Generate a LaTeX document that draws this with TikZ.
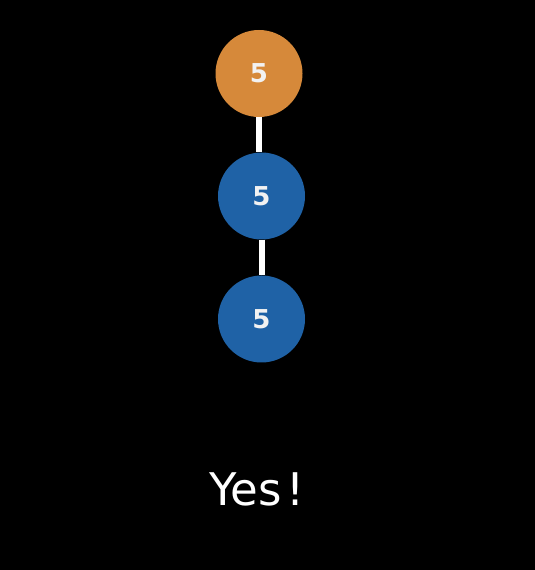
\documentclass[tikz,border=0pt]{standalone}
\usepackage{fontspec}
\setmainfont{DejaVu Sans}
\definecolor{nodeorange}{HTML}{D6893A}
\definecolor{nodeblue}{HTML}{1F62A6}
\definecolor{numwhite}{HTML}{F2F2F2}
\begin{document}
\begin{tikzpicture}[x=1pt,y=1pt,
  treenode/.style={circle,minimum size=87pt,inner sep=0pt,text=numwhite,font=\fontsize{26}{30}\selectfont\bfseries},
  edgeline/.style={draw=white,line width=6pt}]
\fill[black] (0,0) rectangle (535,570);
\useasboundingbox (0,0) rectangle (535,570);
\node[treenode,fill=nodeorange] (a) at (259,496.5) {5};
\node[treenode,fill=nodeblue] (b) at (261.5,374) {5};
\node[treenode,fill=nodeblue] (c) at (261.5,251) {5};
\draw[edgeline] (a) -- (a|-b.north);
\draw[edgeline] (b) -- (b|-c.north);
\node[text=white,font=\fontsize{45}{50}\selectfont] (yes) at (257,81) {Yes\kern5pt!};
\end{tikzpicture}
\end{document}
